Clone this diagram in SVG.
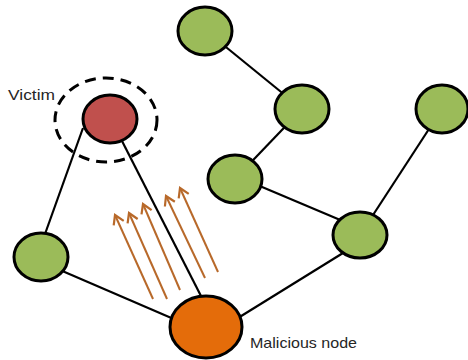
<svg xmlns="http://www.w3.org/2000/svg" width="468" height="360" viewBox="0 0 468 360">
  <style>
    .node { stroke: #000; stroke-width: 3; }
    .green { fill: #9BBB59; }
    .victim { fill: #C0504D; }
    .malicious { fill: #E46C0A; }
    .edge { stroke: #000; stroke-width: 2.2; fill: none; }
    .attack { stroke: #B8692A; stroke-width: 2; fill: none; marker-end: url(#chevron); }
    .label { font-family: "Liberation Sans", Arial, sans-serif; font-size: 15px; fill: #262626; }
  </style>
  <defs>
    <marker id="chevron" viewBox="-12 -7 14 14" markerWidth="14" markerHeight="14" refX="0" refY="0" orient="auto" markerUnits="userSpaceOnUse">
      <path d="M-9,-5.5 L0,0 L-9,5.5" fill="none" stroke="#B8692A" stroke-width="2.2"/>
    </marker>
  </defs>
  <rect width="468" height="360" fill="#fff"/>

  <!-- links between nodes -->
  <g id="connectors">
    <line class="edge" x1="83" y1="128" x2="45" y2="234"/>
    <line class="edge" x1="122" y1="141" x2="202" y2="298"/>
    <line class="edge" x1="60" y1="270" x2="176" y2="320"/>
    <line class="edge" x1="238" y1="318" x2="343" y2="253"/>
    <line class="edge" x1="205" y1="30" x2="302" y2="109"/>
    <line class="edge" x1="302" y1="109" x2="235" y2="179"/>
    <line class="edge" x1="255" y1="184" x2="345" y2="222"/>
    <line class="edge" x1="442" y1="109" x2="360" y2="235"/>
  </g>

  <!-- attack arrows aimed at the victim -->
  <g id="attack-arrows">
    <line class="attack" x1="153" y1="299" x2="115" y2="215"/>
    <line class="attack" x1="167" y1="299" x2="129" y2="213"/>
    <line class="attack" x1="180" y1="290" x2="143" y2="204"/>
    <line class="attack" x1="205" y1="278" x2="166" y2="196"/>
    <line class="attack" x1="218" y1="272" x2="180" y2="188"/>
  </g>

  <g id="victim">
    <ellipse cx="106" cy="120" rx="51" ry="42" fill="none" stroke="#000" stroke-width="3" stroke-dasharray="11 7"/>
    <ellipse class="node victim" cx="110" cy="119" rx="27" ry="24"/>
    <text class="label" x="8" y="100" textLength="47" lengthAdjust="spacingAndGlyphs">Victim</text>
  </g>

  <g id="node-left">
    <ellipse class="node green" cx="41" cy="257" rx="27" ry="24"/>
  </g>

  <g id="node-a">
    <ellipse class="node green" cx="205" cy="31" rx="27" ry="24"/>
  </g>

  <g id="node-b">
    <ellipse class="node green" cx="302" cy="109" rx="27" ry="24"/>
  </g>

  <g id="node-c">
    <ellipse class="node green" cx="235" cy="179" rx="27" ry="24"/>
  </g>

  <g id="node-d">
    <ellipse class="node green" cx="442" cy="109" rx="26" ry="24"/>
  </g>

  <g id="node-e">
    <ellipse class="node green" cx="360" cy="235" rx="27" ry="23"/>
  </g>

  <g id="malicious">
    <ellipse class="node malicious" cx="206" cy="327" rx="36" ry="31"/>
    <text class="label" x="250" y="348" textLength="107" lengthAdjust="spacingAndGlyphs">Malicious node</text>
  </g>
</svg>
